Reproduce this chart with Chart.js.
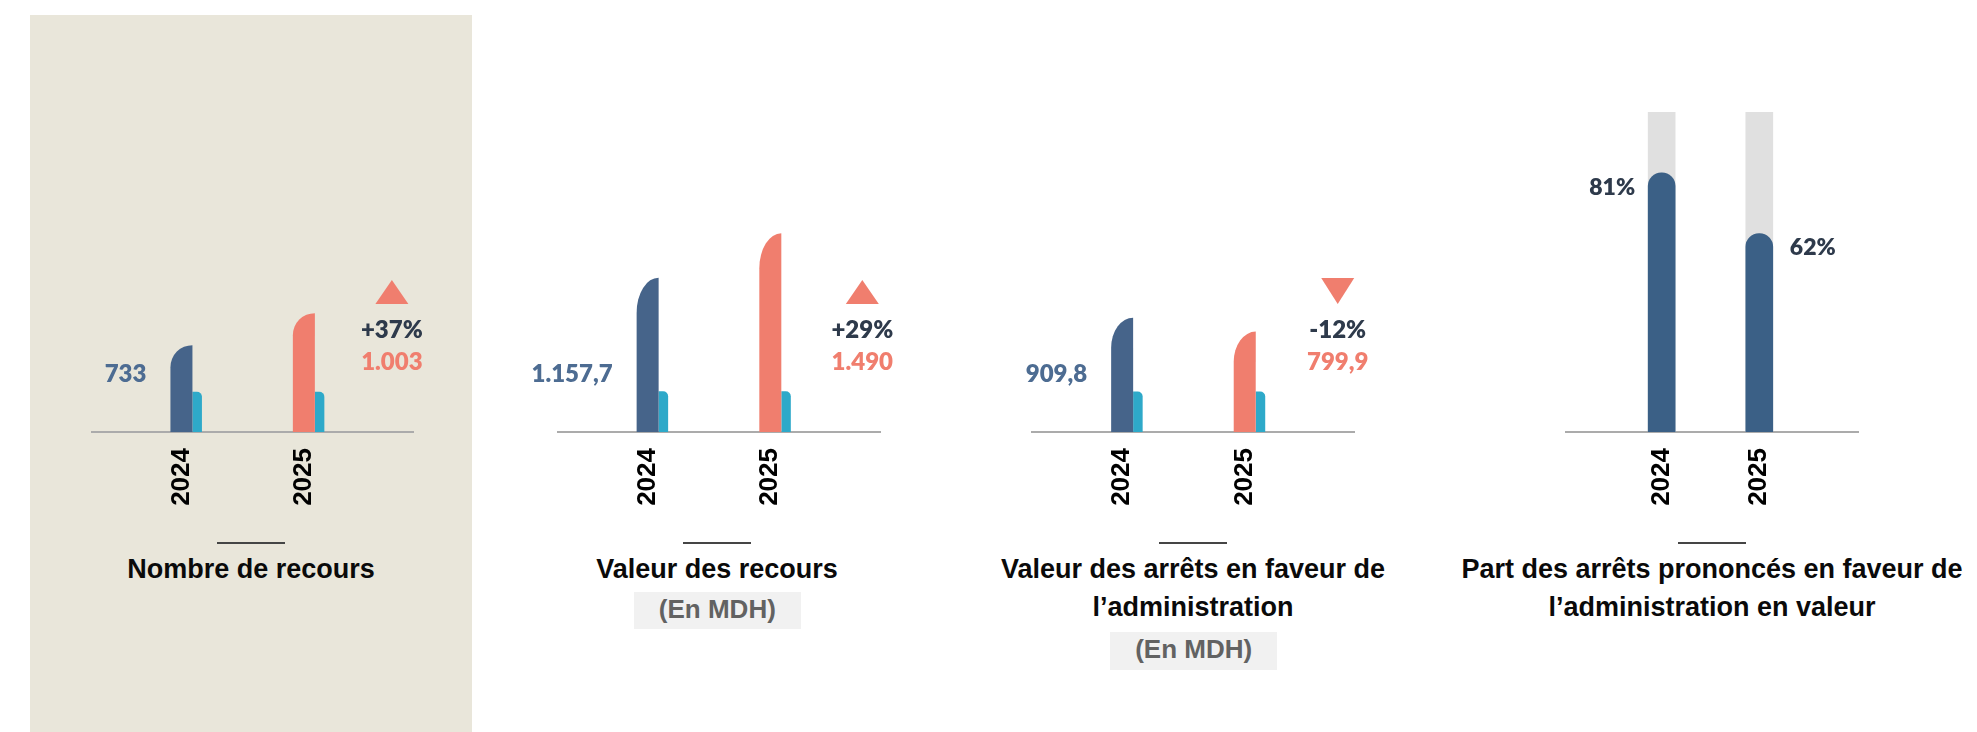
<!DOCTYPE html>
<html lang="fr">
<head>
<meta charset="utf-8">
<title>Recours et arrêts 2024-2025</title>
<script src="https://cdn.jsdelivr.net/npm/chart.js@4.4.1/dist/chart.umd.min.js"></script>
<style>
  html, body { margin: 0; padding: 0; background: #ffffff; }
  body { width: 1977px; height: 732px; position: relative; overflow: hidden;
         font-family: 'Liberation Sans', Arial, sans-serif; }
  .fond { position: absolute; left: 30px; top: 15px; width: 442px; height: 717px; background: #E9E6DA; }
  canvas { position: absolute; top: 0; }
  .trait { position: absolute; top: 542px; width: 68px; height: 2px; background: #454545; }
  .titre { position: absolute; top: 551px; width: 600px; text-align: center; font-weight: bold;
           font-size: 27px; line-height: 37.5px; color: #0a0a0a; }
  .unite { position: absolute; height: 37.6px; background: #F1F1F1; color: #626262; font-weight: bold;
           font-size: 26px; line-height: 35px; text-align: center; }
</style>
</head>
<body>
<div class="fond"></div>
<canvas id="c1" width="442" height="530" style="left:30px"></canvas>
<canvas id="c2" width="430" height="530" style="left:490px"></canvas>
<canvas id="c3" width="440" height="530" style="left:960px"></canvas>
<canvas id="c4" width="420" height="530" style="left:1500px"></canvas>

<div class="trait" style="left:217px"></div>
<div class="titre" style="left:-49px">Nombre de recours</div>

<div class="trait" style="left:683px"></div>
<div class="titre" style="left:417px">Valeur des recours</div>
<div class="unite" style="left:634px;top:591.7px;width:166.7px">(En MDH)</div>

<div class="trait" style="left:1159px"></div>
<div class="titre" style="left:893px">Valeur des arrêts en faveur de<br>l’administration</div>
<div class="unite" style="left:1110px;top:632px;width:167.3px">(En MDH)</div>

<div class="trait" style="left:1678px"></div>
<div class="titre" style="left:1412px">Part des arrêts prononcés en faveur de<br>l’administration en valeur</div>

<script>
// ---- Données ----
const annees = ['2024', '2025'];
const nombreRecours = [733, 1003];
const valeurRecours = [1157.7, 1490];          // MDH
const valeurArrets = [909.8, 799.9];           // MDH
const partArrets = [81, 62];                   // %
const partTotal = [100, 100];                  // %
// petite barre turquoise accolée à chaque colonne
const repereNombre = [340, 340];
const repereValeur = [305, 305];
const repereArrets = [323, 323];

// ---- Couleurs ----
const BLEU = '#46648A';
const BLEU_TXT = '#4D6C92';
const SAUMON = '#F07E6E';
const TURQUOISE = '#2EA9C9';
const ARDOISE = '#2E3A4B';
const AXE = '#ABABAB';
const BLEU_PART = '#3B6086';
const GRIS_PART = '#E0E0E0';
const POLICE_VAL = "800 24px Lato";

// Format français : point pour les milliers, virgule décimale
function fmt(v) {
  const a = Math.abs(v);
  const [ent, dec] = (Number.isInteger(a) ? String(a) : a.toFixed(1)).split('.');
  const milliers = ent.replace(/\B(?=(\d{3})+(?!\d))/g, '.');
  return (v < 0 ? '-' : '') + milliers + (dec ? ',' + dec : '');
}

const policeAnnees = { family: "'Liberation Sans', Arial, sans-serif", weight: 'bold', size: 26 };

function axeX(min, max) {
  return {
    type: 'linear', min: min, max: max, offset: false,
    afterBuildTicks: s => { s.ticks = annees.map((_, i) => ({ value: i })); },
    afterFit: s => { s.height = 80; },
    grid: { display: false, drawTicks: false, offset: false },
    border: { display: true, color: AXE, width: 2 },
    ticks: { autoSkip: false, minRotation: 90, maxRotation: 90, padding: 16, color: '#000',
             font: policeAnnees, callback: v => annees[v] }
  };
}

// Colonnes « lame » (coin supérieur gauche incurvé) + repère turquoise
const lamePlugin = {
  id: 'lame',
  beforeDatasetDraw(chart, args) {
    const ds = chart.data.datasets[args.index];
    if (!ds.forme) return;
    const ctx = chart.ctx;
    ctx.save();
    args.meta.data.forEach((el, i) => {
      const p = el.getProps(['x', 'y', 'base', 'width'], true);
      ctx.fillStyle = Array.isArray(ds.backgroundColor) ? ds.backgroundColor[i] : ds.backgroundColor;
      ctx.beginPath();
      if (ds.forme === 'lame') {
        const l = p.x - p.width / 2, r = p.x + p.width / 2;
        const c = Math.min(ds.courbe, p.base - p.y);
        ctx.moveTo(l, p.base);
        ctx.lineTo(l, p.y + c);
        ctx.ellipse(r, p.y + c, p.width, c, 0, Math.PI, 1.5 * Math.PI);
        ctx.lineTo(r, p.base);
      } else {
        const col = chart.getDatasetMeta(0).data[i];
        const l = col.x + col.width / 2, r = l + p.width, rad = 5;
        ctx.moveTo(l, p.base);
        ctx.lineTo(l, p.y);
        ctx.lineTo(r - rad, p.y);
        ctx.arcTo(r, p.y, r, p.y + rad, rad);
        ctx.lineTo(r, p.base);
      }
      ctx.closePath();
      ctx.fill();
    });
    ctx.restore();
    return false;
  },
  afterDatasetsDraw(chart, args, opts) {
    const ctx = chart.ctx;
    const els = chart.getDatasetMeta(0).data;
    const v = chart.data.datasets[0].data.map(d => d.y);
    const axe = chart.chartArea.bottom;
    const variation = Math.round((v[1] - v[0]) / v[0] * 100);
    ctx.save();
    ctx.font = POLICE_VAL;
    ctx.textBaseline = 'alphabetic';
    // valeur de la première année, à gauche de sa colonne
    ctx.textAlign = 'right';
    ctx.fillStyle = BLEU_TXT;
    ctx.fillText(fmt(v[0]), els[0].x - els[0].width / 2 - 24, axe - 50.5);
    // variation et valeur de la seconde année
    const cx = els[1].x + opts.dx;
    ctx.textAlign = 'center';
    ctx.fillStyle = SAUMON;
    ctx.beginPath();
    if (variation >= 0) {
      ctx.moveTo(cx, axe - 152); ctx.lineTo(cx + 16.5, axe - 128); ctx.lineTo(cx - 16.5, axe - 128);
    } else {
      ctx.moveTo(cx - 16.5, axe - 154); ctx.lineTo(cx + 16.5, axe - 154); ctx.lineTo(cx, axe - 128);
    }
    ctx.closePath();
    ctx.fill();
    ctx.fillStyle = ARDOISE;
    ctx.fillText((variation > 0 ? '+' : '') + variation + '%', cx, axe - 94.5);
    ctx.fillStyle = SAUMON;
    ctx.fillText(fmt(v[1]), cx, axe - 62);
    ctx.restore();
  }
};

function graphiqueLame(id, valeurs, repere, yMax, padL, padR, courbe, dx) {
  new Chart(document.getElementById(id), {
    type: 'bar',
    data: {
      datasets: [
        { data: valeurs.map((y, i) => ({ x: i, y })), backgroundColor: [BLEU, SAUMON],
          barThickness: 22, grouped: false, forme: 'lame', courbe: courbe },
        { data: repere.map((y, i) => ({ x: i, y })), backgroundColor: TURQUOISE,
          barThickness: 9.5, grouped: false, forme: 'repere' }
      ]
    },
    options: {
      responsive: false, animation: false, events: [],
      layout: { padding: { left: padL, right: padR, top: 112, bottom: 18 } },
      plugins: { legend: { display: false }, tooltip: { enabled: false }, lame: { dx: dx } },
      scales: { x: axeX(-0.733, 1.894), y: { display: false, min: 0, max: yMax } }
    },
    plugins: [lamePlugin]
  });
}

graphiqueLame('c1', nombreRecours, repereNombre, 2700, 61.7, 58.7, 22, 88);
graphiqueLame('c2', valeurRecours, repereValeur, 2400, 67.7, 40, 35, 92);
graphiqueLame('c3', valeurArrets, repereArrets, 2550, 72.3, 45.7, 30, 93);

// Part des arrêts : barres arrondies sur fond gris (100 %)
const partPlugin = {
  id: 'part',
  afterDatasetsDraw(chart) {
    const ctx = chart.ctx;
    const els = chart.getDatasetMeta(0).data;
    const v = chart.data.datasets[0].data;
    ctx.save();
    ctx.font = "800 23px Lato";
    ctx.fillStyle = ARDOISE;
    ctx.textBaseline = 'alphabetic';
    els.forEach((el, i) => {
      const txt = v[i].y + '%';
      if (i === 0) {
        ctx.textAlign = 'right';
        ctx.fillText(txt, el.x - el.width / 2 - 13, el.y + 21.7);
      } else {
        ctx.textAlign = 'left';
        ctx.fillText(txt, el.x + el.width / 2 + 17, el.y + 21.7);
      }
    });
    ctx.restore();
  }
};

new Chart(document.getElementById('c4'), {
  type: 'bar',
  data: {
    datasets: [
      { data: partArrets.map((y, i) => ({ x: i, y })), backgroundColor: BLEU_PART, barThickness: 27,
        grouped: false, borderSkipped: 'start', borderRadius: { topLeft: 14, topRight: 14 } },
      { data: partTotal.map((y, i) => ({ x: i, y })), backgroundColor: GRIS_PART, barThickness: 27,
        grouped: false }
    ]
  },
  options: {
    responsive: false, animation: false, events: [],
    layout: { padding: { left: 65.6, right: 62, top: 112, bottom: 18 } },
    plugins: { legend: { display: false }, tooltip: { enabled: false } },
    scales: { x: axeX(-0.984, 2.011), y: { display: false, min: 0, max: 100 } }
  },
  plugins: [partPlugin]
});
</script>
</body>
</html>
